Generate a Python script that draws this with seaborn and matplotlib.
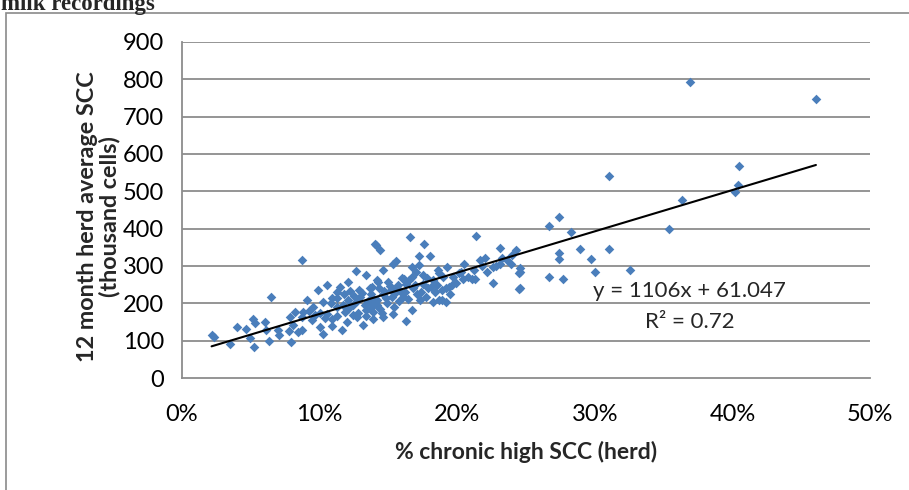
import matplotlib
matplotlib.use("Agg")
import matplotlib.pyplot as plt
import matplotlib.patches as mpatches
import matplotlib.ticker as mticker
import numpy as np
import pandas as pd
import seaborn as sns

# share of chronic high-SCC cows in herd (fraction) and 12-month herd SCC (x1000 cells/ml)
chronic_share = [
    0.369, 0.4607, 0.405, 0.404, 0.4016, 0.310, 0.3636, 0.354, 0.274, 0.267,
    0.2826, 0.2737, 0.2739, 0.289, 0.2974, 0.310, 0.300, 0.3255, 0.267, 0.277,
    0.246, 0.2456, 0.2456,
    0.2136, 0.231, 0.243, 0.220, 0.2165, 0.2323, 0.1927, 0.205, 0.226, 0.231,
    0.239, 0.201, 0.197, 0.211, 0.213, 0.204, 0.226, 0.2446, 0.245, 0.192,
    0.194, 0.196, 0.1887, 0.192, 0.187,
    0.1656, 0.176, 0.140, 0.1438, 0.1724, 0.180, 0.1555, 0.153, 0.1724, 0.146,
    0.1669, 0.186, 0.175, 0.1596, 0.1414, 0.150, 0.163, 0.1826, 0.190, 0.1378,
    0.156, 0.168, 0.179, 0.146, 0.1523, 0.1608, 0.173, 0.187, 0.1826, 0.139,
    0.1438, 0.1535, 0.1669, 0.146, 0.1627, 0.139,
    0.1409, 0.087, 0.1264, 0.1337, 0.1208, 0.1055, 0.1148, 0.099, 0.1124, 0.1288,
    0.1366, 0.1426, 0.0906, 0.1087, 0.1026, 0.1208, 0.1293, 0.1378, 0.0953, 0.1124,
    0.1244, 0.1414, 0.088, 0.1051, 0.1184, 0.134, 0.0942, 0.1087, 0.1269, 0.139,
    0.1002, 0.116, 0.1317, 0.0869, 0.1026,
    0.0646, 0.0517, 0.053, 0.0605, 0.0397, 0.0464, 0.0215, 0.0232, 0.0348, 0.0493,
    0.0525, 0.0632, 0.070, 0.0707, 0.061, 0.078, 0.079, 0.0784, 0.082, 0.0845,
    0.0808, 0.087,
    0.108, 0.113, 0.118, 0.122, 0.125, 0.131, 0.135, 0.142, 0.147, 0.151,
    0.155, 0.158, 0.162, 0.165, 0.169, 0.171, 0.175, 0.178, 0.181, 0.184,
    0.117, 0.121, 0.128, 0.133, 0.137, 0.143, 0.149, 0.154, 0.157, 0.161,
    0.170, 0.100, 0.104, 0.097, 0.092, 0.109, 0.113, 0.120, 0.124, 0.127,
    0.134, 0.137, 0.145, 0.148, 0.152, 0.159, 0.164, 0.167, 0.174, 0.177,
    0.185, 0.189, 0.195, 0.199, 0.203, 0.208, 0.212, 0.218, 0.222, 0.228,
    0.236, 0.240,
]
herd_scc = [
    794, 746, 568, 516, 497, 540, 477, 400, 431, 406,
    391, 336, 320, 345, 319, 346, 283, 290, 271, 265,
    295, 283, 240,
    380, 347, 342, 322, 315, 322, 297, 306, 297, 306,
    306, 281, 271, 264, 264, 264, 255, 238, 280, 240,
    244, 248, 208, 204, 280,
    378, 360, 358, 344, 326, 326, 313, 306, 302, 290,
    296, 288, 275, 269, 262, 257, 253, 262, 271, 244,
    240, 240, 240, 226, 217, 217, 208, 208, 204, 199,
    186, 172, 181, 163, 153, 177,
    355, 315, 287, 277, 257, 248, 244, 235, 230, 235,
    240, 257, 208, 213, 204, 208, 217, 213, 190, 190,
    195, 195, 177, 172, 177, 181, 155, 159, 163, 159,
    137, 128, 141, 128, 119,
    216, 157, 147, 150, 136, 132, 114, 110, 92, 108,
    83, 99, 128, 116, 128, 126, 96, 163, 177, 123,
    141, 163,
    200, 215, 225, 232, 220, 228, 205, 210, 233, 246,
    228, 205, 230, 262, 250, 225, 252, 268, 245, 230,
    195, 186, 175, 195, 226, 240, 200, 190, 250, 265,
    285, 175, 160, 168, 180, 140, 165, 150, 170, 205,
    167, 188, 175, 215, 236, 230, 212, 270, 230, 218,
    250, 235, 225, 255, 285, 270, 290, 300, 285, 300,
    315, 330,
]

# Excel linear trendline as printed on the chart
slope = 1106
intercept = 61.047
r_squared = 0.72

y_ticks = [0, 100, 200, 300, 400, 500, 600, 700, 800, 900]
x_ticks = [0.0, 0.1, 0.2, 0.3, 0.4, 0.5]

df = pd.DataFrame({"chronic": chronic_share, "scc": herd_scc})
x_fit = np.array([df["chronic"].min(), df["chronic"].max()])
fit = pd.DataFrame({"chronic": x_fit, "scc": slope * x_fit + intercept})

sns.set_style("white")
plt.rcParams["font.family"] = ["Lato", "DejaVu Sans"]

fig = plt.figure(figsize=(9.09, 4.90), dpi=100)
ax = fig.add_axes([182 / 909, 1 - 378 / 490, (870 - 182) / 909, (378 - 42) / 490])

grid_color = "#8c8c8c"
for v in y_ticks[1:]:
    ax.axhline(v, color=grid_color, lw=1.3, zorder=0)

sns.scatterplot(data=df, x="chronic", y="scc", marker="D", s=24,
                color="#4a7ebb", edgecolor="#4a7ebb", linewidth=0, ax=ax, zorder=3)
sns.lineplot(data=fit, x="chronic", y="scc", color="black", lw=1.5, ax=ax, zorder=4)

ax.set_xlim(0, 0.5)
ax.set_ylim(0, 900)
ax.set_xticks(x_ticks)
ax.set_yticks(y_ticks)
ax.xaxis.set_major_formatter(mticker.PercentFormatter(1.0, decimals=0))
ax.tick_params(axis="both", direction="out", length=7, width=1.3, color=grid_color,
               labelsize=17, pad=6, labelcolor="black")
ax.tick_params(axis="x", pad=12)
for side in ["top", "right"]:
    ax.spines[side].set_visible(False)
for side in ["left", "bottom"]:
    ax.spines[side].set_color(grid_color)
    ax.spines[side].set_linewidth(1.3)

ax.set_xlabel("% chronic high SCC (herd)", fontsize=16.5, fontweight="bold")
ax.xaxis.set_label_coords(0.5, -(452 - 378) / 336, transform=ax.transAxes)
ax.xaxis.label.set_va("center")
ax.set_ylabel("12 month herd average SCC\n(thousand cells)", fontsize=16.8,
              fontweight="bold", linespacing=1.0)
ax.yaxis.set_label_coords(-(182 - 120) / 688, 0.48)

ax.text(0.369, 232, f"y = {slope}x + {intercept}", fontsize=16, ha="center", va="center")
ax.text(0.369, 150, f"R² = {r_squared}", fontsize=16, ha="center", va="center")

# outer chart frame and clipped page heading
fig.patches.append(mpatches.Rectangle((6 / 909, -0.05), 1.2, 1 - 12.7 / 490 + 0.05,
                                      transform=fig.transFigure, fill=False,
                                      edgecolor="#8a8a8a", lw=1.2))
fig.text(1 / 909, 1 - 10 / 490, "milk recordings", fontsize=16.5, fontweight="bold",
         family=["Liberation Serif"], ha="left", va="baseline")

fig.savefig("out.png", dpi=100)
